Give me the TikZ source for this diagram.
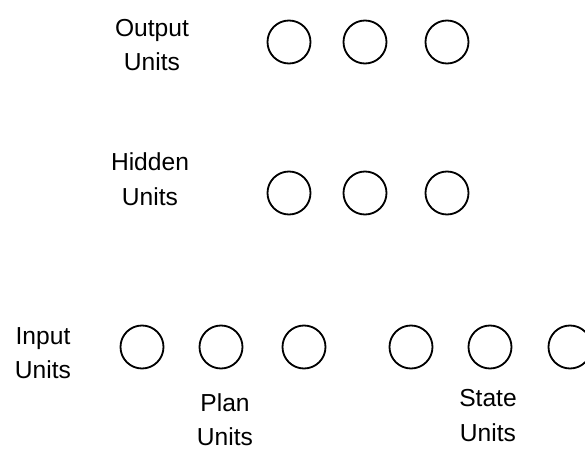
\documentclass[tikz,border=0pt]{standalone}
\usepackage{fontspec}
\setmainfont{Liberation Sans}
\usepackage{tikz}
\tikzset{unit/.style={shape=circle,draw=black,line width=1.3pt,inner sep=0pt,minimum size=1.075cm},
  lbl/.style={align=center,inner sep=0pt,font=\fontsize{17.5}{24.6}\selectfont}}

\begin{document}
\begin{tikzpicture}
\useasboundingbox (0,0) rectangle (14.625,11.275);
\clip (0,0) rectangle (14.625,11.275);

%labels
\node[lbl] (outlbl) at (3.8,10.15) {Output\\Units};
\node[lbl] (hidlbl) at (3.75,6.8) {Hidden\\Units};
\node[lbl] (inlbl) at (1.075,2.45) {Input\\Units};
\node[lbl] (planlbl) at (5.625,0.78) {Plan\\Units};
\node[lbl] (statelbl) at (12.2,0.88) {State\\Units};

%output units
\node[unit] (out1) at (7.225,10.225) {};
\node[unit] (out2) at (9.125,10.225) {};
\node[unit] (out3) at (11.175,10.225) {};

%hidden units
\node[unit] (hid1) at (7.225,6.45) {};
\node[unit] (hid2) at (9.125,6.45) {};
\node[unit] (hid3) at (11.175,6.45) {};

%input units: plan, then state
\node[unit] (in1) at (3.55,2.6) {};
\node[unit] (in2) at (5.525,2.6) {};
\node[unit] (in3) at (7.6,2.6) {};
\node[unit] (in4) at (10.275,2.6) {};
\node[unit] (in5) at (12.25,2.6) {};
\node[unit] (in6) at (14.25,2.6) {};

\end{tikzpicture}
\end{document}
